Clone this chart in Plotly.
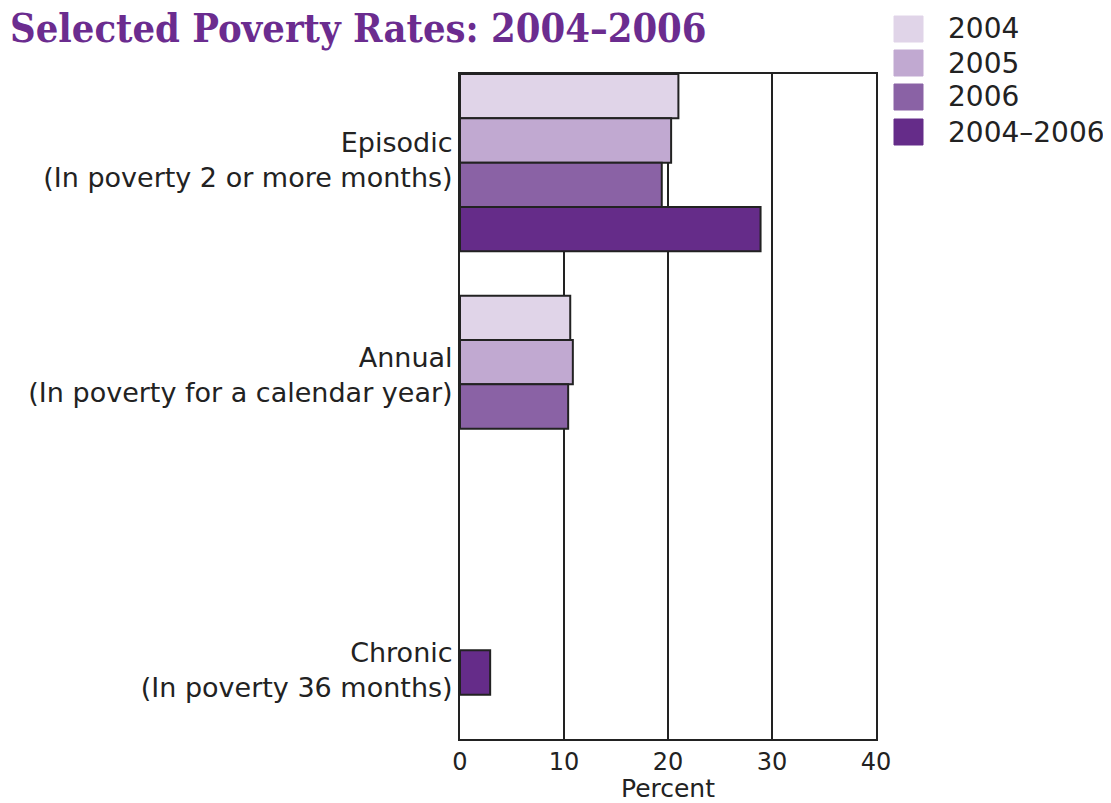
import plotly.graph_objects as go

# ---- data ----
categories = [
    "Episodic<br>(In poverty 2 or more months)",
    "Annual<br>(In poverty for a calendar year)",
    "Chronic<br>(In poverty 36 months)",
]
series_names = ["2004", "2005", "2006", "2004–2006"]
values_2004 = [21.0, 10.6, None]
values_2005 = [20.3, 10.85, None]
values_2006 = [19.4, 10.4, None]
values_2004_2006 = [28.9, None, 2.9]
x_ticks = [0, 10, 20, 30, 40]
x_title = "Percent"
title_text = "Selected Poverty Rates: 2004–2006"

series_values = [values_2004, values_2005, values_2006, values_2004_2006]
colors = ["#e0d4e8", "#c1a9d1", "#8a62a5", "#652c89"]

# ---- layout constants (pixels) ----
OFF = 8  # page body margin
W, H = 1103, 795
L, R, T, B = 452, 235, 66, 64
plot_w = W - L - R
plot_h = H - T - B


def px_x(px):
    return (px - OFF - L) / plot_w


def px_y(py):
    return (H - B - (py - OFF)) / plot_h


cat_pos = list(range(len(categories)))
label_shift = [-0.01, -0.04, 0.29]
tick_positions = [c + s for c, s in zip(cat_pos, label_shift)]

fig = go.Figure()
for name, vals, col in zip(series_names, series_values, colors):
    fig.add_trace(go.Bar(
        name=name, x=vals, y=cat_pos, orientation="h",
        marker=dict(color=col, line=dict(color="#222222", width=2)),
        showlegend=False,
    ))

fig.update_layout(
    width=W, height=H,
    margin=dict(l=L, r=R, t=T, b=B, pad=0),
    paper_bgcolor="white", plot_bgcolor="white",
    barmode="group", bargap=0.2, bargroupgap=0,
    font=dict(family="DejaVu Sans", size=26, color="#222222"),
    xaxis=dict(
        range=[0, 40], tickvals=x_ticks, ticks="", automargin=False,
        showgrid=True, gridcolor="#222222", gridwidth=2,
        zeroline=False, showline=True, mirror=True,
        linecolor="#222222", linewidth=2,
        title=dict(text=x_title, standoff=4, font=dict(size=25)),
        tickfont=dict(size=24),
    ),
    yaxis=dict(
        range=[2.6, -0.4], tickvals=tick_positions, ticktext=categories,
        ticks="", showgrid=False, zeroline=False, automargin=False,
        showline=True, mirror=True, linecolor="#222222", linewidth=2,
        tickfont=dict(size=27),
    ),
)

# title
fig.add_annotation(
    text=title_text, xref="paper", yref="paper",
    x=px_x(8), y=px_y(28), xanchor="left", yanchor="middle",
    showarrow=False,
    font=dict(family="DejaVu Serif Condensed, Liberation Serif", size=39.5,
              color="#6b2c8f", weight="bold"),
)
fig.add_annotation(
    text="Figure 1.", xref="paper", yref="paper",
    x=px_x(10), y=px_y(4), xanchor="left", yanchor="bottom",
    showarrow=False, font=dict(size=24, color="#333333"),
)

# legend drawn manually
row_centers = [29, 63, 97, 132]
for name, col, cy in zip(series_names, colors, row_centers):
    fig.add_shape(
        type="rect", xref="paper", yref="paper",
        x0=px_x(894), x1=px_x(923), y0=px_y(cy + 13), y1=px_y(cy - 13),
        fillcolor=col, line=dict(color=col, width=1),
    )
    fig.add_annotation(
        text=name, xref="paper", yref="paper",
        x=px_x(946), y=px_y(cy), xanchor="left", yanchor="middle",
        showarrow=False, font=dict(size=28, color="#222222"),
    )

fig.write_html("out.html")
